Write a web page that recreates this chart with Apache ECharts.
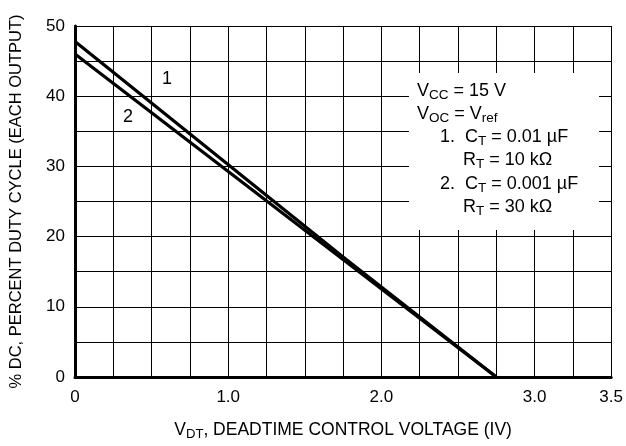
<!DOCTYPE html>
<html>
<head>
<meta charset="utf-8">
<script src="https://cdn.jsdelivr.net/npm/echarts@6/dist/echarts.min.js"></script>
<style>
  html, body { margin: 0; padding: 0; background: #fff; }
  #main { width: 626px; height: 446px; }
</style>
</head>
<body>
<div id="main"></div>
<script>
// tick labels shown on the axes
const xTickValues = [0, 1, 2, 3, 3.5];
const xTickLabels = ['0', '1.0', '2.0', '3.0', '3.5'];
const yTickValues = [0, 10, 20, 30, 40, 50];

// duty cycle (%) vs deadtime control voltage (V)
const curve1 = [[0, 47.8], [1.75, 17.1], [2.75, 0]];
const curve2 = [[0, 46], [2.75, 0]];

const FONT = "'Liberation Sans', Arial, sans-serif";

// rich styles for subscripts
function richStyles(size) {
  return {
    m: { fontSize: size, fontFamily: FONT, color: '#000', lineHeight: 22 },
    s: { fontSize: size * 0.75, fontFamily: FONT, color: '#000', lineHeight: 10, verticalAlign: 'bottom' }
  };
}

const chart = echarts.init(document.getElementById('main'), null, { renderer: 'canvas' });

const option = {
  backgroundColor: '#fff',
  animation: false,
  grid: { left: 73, right: 10, top: 26, bottom: 69 },
  xAxis: {
    type: 'value',
    min: 0,
    max: 3.5,
    interval: 0.25,
    name: '{m|V}{s|DT}{m|, DEADTIME CONTROL VOLTAGE (IV)}',
    nameLocation: 'middle',
    nameGap: 42,
    nameTextStyle: { rich: richStyles(17.5) },
    axisLine: { lineStyle: { color: '#000', width: 3 } },
    axisTick: { show: false },
    axisLabel: {
      showMaxLabel: true,
      showMinLabel: true,
      margin: 12,
      fontSize: 17,
      fontFamily: FONT,
      color: '#000',
      formatter: function (v) {
        const i = xTickValues.indexOf(v);
        return i >= 0 ? xTickLabels[i] : '';
      }
    },
    splitLine: { show: true, lineStyle: { color: '#000', width: 1 } }
  },
  yAxis: {
    type: 'value',
    min: 0,
    max: 50,
    interval: 5,
    name: '% DC, PERCENT DUTY CYCLE (EACH OUTPUT)',
    nameLocation: 'middle',
    nameGap: 50,
    nameRotate: 90,
    nameTextStyle: { fontSize: 16.5, fontFamily: FONT, color: '#000' },
    axisLine: { show: true, lineStyle: { color: '#000', width: 3 } },
    axisTick: { show: false },
    axisLabel: {
      margin: 10,
      fontSize: 17,
      fontFamily: FONT,
      color: '#000',
      formatter: function (v) {
        return yTickValues.indexOf(v) >= 0 ? String(v) : '';
      }
    },
    splitLine: { show: true, lineStyle: { color: '#000', width: 1 } }
  },
  series: [
    {
      name: '1',
      type: 'line',
      data: curve1,
      symbol: 'none',
      lineStyle: { color: '#000', width: 3.2 },
      z: 5
    },
    {
      name: '2',
      type: 'line',
      data: curve2,
      symbol: 'none',
      lineStyle: { color: '#000', width: 3.2 },
      z: 5
    }
  ],
  graphic: [
    {
      type: 'rect',
      shape: { x: 409, y: 73, width: 190, height: 157 },
      style: { fill: '#fff' },
      z: 10
    },
    { type: 'text', x: 162, y: 70, z: 11, style: { text: '1', font: '18px ' + FONT, fill: '#000' } },
    { type: 'text', x: 123, y: 108, z: 11, style: { text: '2', font: '18px ' + FONT, fill: '#000' } },
    { type: 'text', x: 417, y: 80, z: 11, style: { text: '{m|V}{s|CC}{m| = 15 V}', rich: richStyles(18) } },
    { type: 'text', x: 417, y: 103, z: 11, style: { text: '{m|V}{s|OC}{m| = V}{s|ref}', rich: richStyles(18) } },
    { type: 'text', x: 440, y: 126, z: 11, style: { text: '{m|1.  C}{s|T}{m| = 0.01 \u00b5F}', rich: richStyles(18) } },
    { type: 'text', x: 463, y: 149, z: 11, style: { text: '{m|R}{s|T}{m| = 10 k\u03a9}', rich: richStyles(18) } },
    { type: 'text', x: 440, y: 173, z: 11, style: { text: '{m|2.  C}{s|T}{m| = 0.001 \u00b5F}', rich: richStyles(18) } },
    { type: 'text', x: 463, y: 196, z: 11, style: { text: '{m|R}{s|T}{m| = 30 k\u03a9}', rich: richStyles(18) } }
  ]
};

chart.setOption(option);
</script>
</body>
</html>
